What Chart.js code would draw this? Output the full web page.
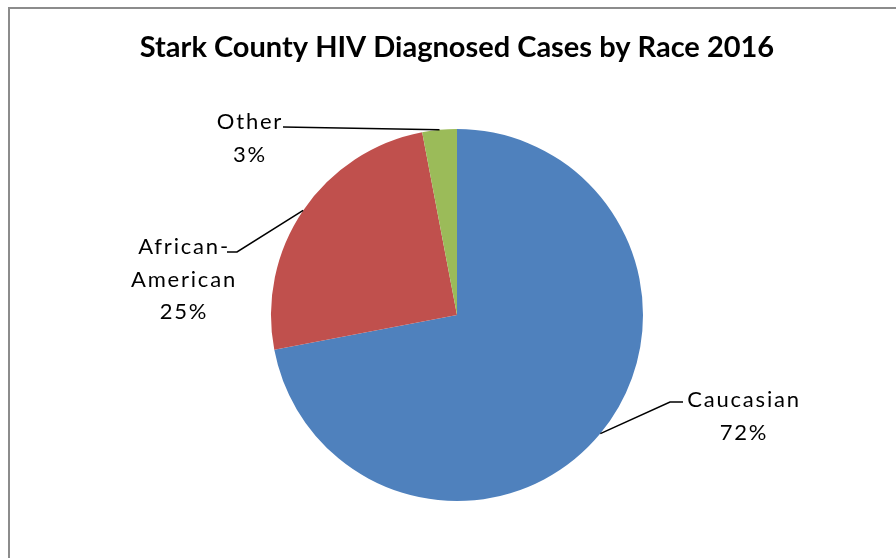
<!DOCTYPE html>
<html><head><meta charset="utf-8">
<script src="https://cdn.jsdelivr.net/npm/chart.js@4.4.1/dist/chart.umd.min.js"></script>
<style>html,body{margin:0;padding:0;background:#fff;}#wrap{width:896px;height:558px;position:relative;}</style>
</head><body><div id="wrap"><canvas id="c" width="896" height="558"></canvas></div>
<script>
const categories = ["Caucasian", "African-American", "Other"];
const labelLines = [["Caucasian", "72%"], ["African-", "American", "25%"], ["Other", "3%"]];
const values = [72, 25, 3];
const colors = ["#4F81BD", "#C0504D", "#9BBB59"];

// label placement relative to pie centre (px): text centre of first line, leader start and optional elbow
const placement = [
  {tx: 286, ty: 85, start: [226, 87], elbow: [213, 87]},
  {tx: -274, ty: -68, start: [-230, -63], elbow: [-220, -63]},
  {tx: -208, ty: -193, start: [-174, -188], elbow: null}
];

const frame = {
  id: 'frame',
  beforeDraw(chart) {
    const ctx = chart.ctx;
    ctx.save();
    ctx.fillStyle = '#fff';
    ctx.fillRect(0, 0, chart.width, chart.height);
    ctx.strokeStyle = '#8c8c8c';
    ctx.lineWidth = 2;
    ctx.beginPath();
    ctx.moveTo(9, 600); ctx.lineTo(9, 8); ctx.lineTo(900, 8);
    ctx.stroke();
    ctx.restore();
  }
};

const labels = {
  id: 'pieLabels',
  afterDraw(chart) {
    const ctx = chart.ctx;
    const meta = chart.getDatasetMeta(0);
    ctx.save();
    ctx.font = '22px Lato';
    ctx.letterSpacing = '1.8px';
    ctx.textAlign = 'center';
    ctx.textBaseline = 'middle';
    meta.data.forEach((arc, i) => {
      const cx = arc.x, cy = arc.y;
      const mid = (arc.startAngle + arc.endAngle) / 2;
      const ex = cx + Math.cos(mid) * arc.outerRadius;
      const ey = cy + Math.sin(mid) * arc.outerRadius;
      const p = placement[i];
      ctx.strokeStyle = '#000';
      ctx.lineWidth = 1.5;
      ctx.beginPath();
      ctx.moveTo(cx + p.start[0], cy + p.start[1]);
      if (p.elbow) ctx.lineTo(cx + p.elbow[0], cy + p.elbow[1]);
      ctx.lineTo(ex, ey);
      ctx.stroke();
      ctx.fillStyle = '#000';
      labelLines[i].forEach((t, k) => {
        ctx.fillText(t, cx + p.tx + 1, cy + p.ty + k * 32.5);
      });
    });
    ctx.restore();
  }
};

new Chart(document.getElementById('c'), {
  type: 'pie',
  data: {
    labels: categories,
    datasets: [{data: values, backgroundColor: colors, borderWidth: 0, hoverOffset: 0}]
  },
  options: {
    responsive: false,
    animation: false,
    events: [],
    layout: {padding: {left: 18, right: 0, top: 0, bottom: 57}},
    plugins: {
      legend: {display: false},
      tooltip: {enabled: false},
      title: {
        display: true,
        text: 'Stark County HIV Diagnosed Cases by Race 2016',
        color: '#000',
        font: {family: 'Lato', size: 29, weight: 'bold', lineHeight: 1.2},
        padding: {top: 30.6, bottom: 63.6}
      }
    }
  },
  plugins: [frame, labels]
});
</script></body></html>
